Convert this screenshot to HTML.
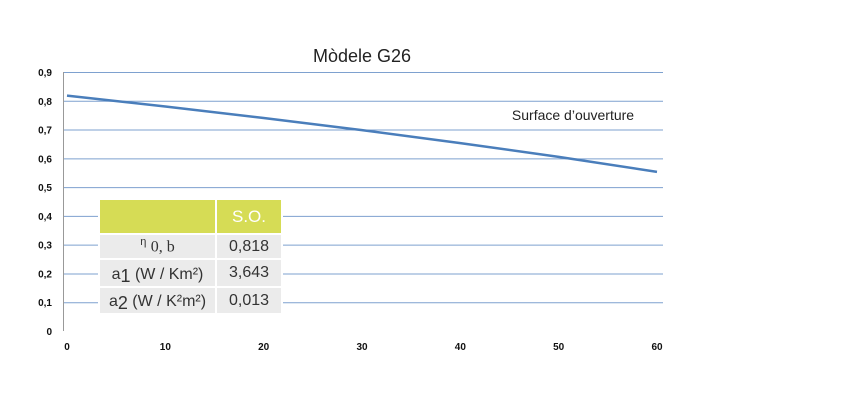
<!DOCTYPE html>
<html><head><meta charset="utf-8">
<style>
body{margin:0;background:#fff;width:851px;height:405px;overflow:hidden;font-family:"Liberation Sans",sans-serif;}
#wrap{position:relative;width:851px;height:405px;}
svg{position:absolute;left:0;top:0;}
table{position:absolute;left:98px;top:198px;border-collapse:collapse;font-size:16px;color:#333;}
td{padding:0;text-align:center;border:2px solid #fff;}
</style></head><body>
<div id="wrap">
<svg id="chart" width="851" height="405">
<text x="362" y="62" text-anchor="middle" font-size="18" fill="#222">Mòdele G26</text>
<g id="grid"></g>
<line x1="63.5" y1="72" x2="63.5" y2="331" stroke="#999" stroke-width="1"/>
<g id="yt"></g><g id="xt"></g>
<path id="series" fill="none" stroke="#4a7ebb" stroke-width="2.5"/>
<text x="573" y="120" text-anchor="middle" font-size="14" fill="#222">Surface d’ouverture</text>
</svg>
<table>
<tr style="height:35px;background:#d6dc55"><td style="width:115px"></td><td style="width:64px;color:#fff;font-size:17px">S.O.</td></tr>
<tr style="height:25px;background:#ebebeb"><td><sup style="font-size:11px">η</sup> <span style="font-family:'Liberation Serif',serif">0, b</span></td><td>0,818</td></tr>
<tr style="height:28px;background:#ebebeb"><td>a<span style="font-size:18px;position:relative;top:3px">1</span> (W / Km²)</td><td>3,643</td></tr>
<tr style="height:27px;background:#ebebeb"><td>a<span style="font-size:18px;position:relative;top:3px">2</span> (W / K²m²)</td><td>0,013</td></tr>
</table>
</div>
<script>
const xs=[0,10,20,30,40,50,60];
const ys=[0.818,0.780,0.740,0.698,0.653,0.605,0.553];
const yTicks=[0,0.1,0.2,0.3,0.4,0.5,0.6,0.7,0.8,0.9];
const yTickLabels=["0","0,1","0,2","0,3","0,4","0,5","0,6","0,7","0,8","0,9"];
const xTicks=[0,10,20,30,40,50,60];
const X=v=>67+v*(657-67)/60;
const Y=v=>331-v*(331-72)/0.9;
const NS="http://www.w3.org/2000/svg";
const grid=document.getElementById('grid'),yt=document.getElementById('yt'),xt=document.getElementById('xt');
yTicks.forEach((t,i)=>{
 if(t>0){const l=document.createElementNS(NS,'line');
 l.setAttribute('x1',63);l.setAttribute('x2',663);l.setAttribute('y1',Y(t)+0.5);l.setAttribute('y2',Y(t)+0.5);
 l.setAttribute('stroke','#7ea1cf');l.setAttribute('stroke-width',1);
 
 
 grid.appendChild(l);}
 const tx=document.createElementNS(NS,'text');
 tx.setAttribute('x',52);tx.setAttribute('y',Y(t)+4);tx.setAttribute('text-anchor','end');
 tx.setAttribute('font-size',10);tx.setAttribute('font-weight','bold');tx.setAttribute('fill','#111');tx.textContent=yTickLabels[i];
 
 
 yt.appendChild(tx);
});
xTicks.forEach(t=>{
 const tx=document.createElementNS(NS,'text');
 tx.setAttribute('x',X(t));tx.setAttribute('y',350);tx.setAttribute('text-anchor','middle');
 tx.setAttribute('font-size',10);tx.setAttribute('font-weight','bold');tx.setAttribute('fill','#111');tx.textContent=t;
 
 
 xt.appendChild(tx);
});
document.getElementById('series').setAttribute('d',xs.map((x,i)=>(i?'L':'M')+X(x)+' '+Y(ys[i])).join(' '));
</script>
</body></html>
